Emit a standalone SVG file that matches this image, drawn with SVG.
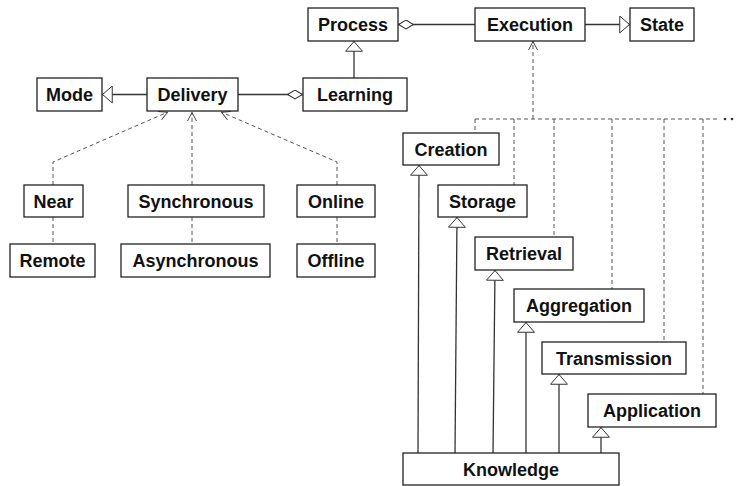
<svg xmlns="http://www.w3.org/2000/svg" width="736" height="486" viewBox="0 0 736 486">
<style>
.box{fill:#fff;stroke:#222;stroke-width:1.3}
.t{font-family:"Liberation Sans",Arial,Helvetica,sans-serif;font-weight:bold;font-size:18px;fill:#111;text-anchor:middle}
.s{fill:none;stroke:#333;stroke-width:1.3}
.d{fill:none;stroke:#555;stroke-width:1;stroke-dasharray:4 3}
</style>
<defs>
<marker id="tri" viewBox="0 0 12 20" refX="12" refY="10" markerWidth="11" markerHeight="18" markerUnits="userSpaceOnUse" orient="auto">
<path d="M0.6,0.6 L11.4,10 L0.6,19.4 Z" fill="#fff" stroke="#333" stroke-width="1.1"/>
</marker>
<marker id="dia" viewBox="0 0 16 10" refX="16" refY="5" markerWidth="16" markerHeight="10" markerUnits="userSpaceOnUse" orient="auto">
<path d="M0.6,5 L8,0.6 L15.4,5 L8,9.4 Z" fill="#fff" stroke="#333" stroke-width="1.1"/>
</marker>
<marker id="open" viewBox="0 0 9 10" refX="9" refY="5" markerWidth="9" markerHeight="10" markerUnits="userSpaceOnUse" orient="auto">
<path d="M0,0.5 L8.5,5 L0,9.5" fill="none" stroke="#444" stroke-width="1"/>
</marker>
</defs>
<g id="connectors">
<line class="s" x1="475" y1="24.5" x2="398" y2="24.5" marker-end="url(#dia)"/>
<line class="s" x1="585" y1="24.5" x2="630" y2="24.5" marker-end="url(#tri)"/>
<line class="s" x1="354" y1="78" x2="354" y2="41" marker-end="url(#tri)"/>
<line class="s" x1="147" y1="94.5" x2="102" y2="94.5" marker-end="url(#tri)"/>
<line class="s" x1="238" y1="94.5" x2="303" y2="94.5" marker-end="url(#dia)"/>
<polyline class="d" points="53,185 53,162 168,112" marker-end="url(#open)"/>
<line class="d" x1="192" y1="185" x2="192" y2="112" marker-end="url(#open)"/>
<polyline class="d" points="337,185 337,162 221,112" marker-end="url(#open)"/>
<line class="d" x1="53" y1="217" x2="53" y2="244"/>
<line class="d" x1="192" y1="217" x2="192" y2="244"/>
<line class="d" x1="337" y1="217" x2="337" y2="244"/>
<line class="d" x1="533" y1="119" x2="533" y2="41" marker-end="url(#open)"/>
<line class="d" x1="475" y1="119" x2="717" y2="119"/>
<circle cx="725" cy="119" r="1.3" fill="#333"/>
<circle cx="732" cy="119" r="1.3" fill="#333"/>
<line class="d" x1="475" y1="119" x2="475" y2="133"/>
<line class="d" x1="514" y1="119" x2="514" y2="185"/>
<line class="d" x1="554" y1="119" x2="554" y2="237"/>
<line class="d" x1="612" y1="119" x2="612" y2="289"/>
<line class="d" x1="664" y1="119" x2="664" y2="342"/>
<line class="d" x1="703" y1="119" x2="703" y2="394"/>
<line class="s" x1="418" y1="453" x2="419" y2="165" marker-end="url(#tri)"/>
<line class="s" x1="455" y1="453" x2="457" y2="217" marker-end="url(#tri)"/>
<line class="s" x1="493" y1="453" x2="495" y2="270" marker-end="url(#tri)"/>
<line class="s" x1="526" y1="453" x2="526" y2="322" marker-end="url(#tri)"/>
<line class="s" x1="559" y1="453" x2="559" y2="374" marker-end="url(#tri)"/>
<line class="s" x1="601" y1="453" x2="601" y2="427" marker-end="url(#tri)"/>
</g>
<g id="process"><rect class="box" x="308" y="8" width="90" height="33"/><text class="t" x="353" y="31">Process</text></g>
<g id="execution"><rect class="box" x="475" y="8" width="110" height="33"/><text class="t" x="530" y="31">Execution</text></g>
<g id="state"><rect class="box" x="630" y="8" width="64" height="33"/><text class="t" x="662" y="31">State</text></g>
<g id="mode"><rect class="box" x="37" y="78" width="65" height="33"/><text class="t" x="69.5" y="101">Mode</text></g>
<g id="delivery"><rect class="box" x="147" y="78" width="91" height="33"/><text class="t" x="192.5" y="101">Delivery</text></g>
<g id="learning"><rect class="box" x="303" y="78" width="104" height="33"/><text class="t" x="355" y="101">Learning</text></g>
<g id="near"><rect class="box" x="24" y="185" width="59" height="32"/><text class="t" x="53.5" y="207.5">Near</text></g>
<g id="synchronous"><rect class="box" x="128" y="185" width="136" height="32"/><text class="t" x="196" y="207.5">Synchronous</text></g>
<g id="online"><rect class="box" x="297" y="185" width="78" height="32"/><text class="t" x="336" y="207.5">Online</text></g>
<g id="remote"><rect class="box" x="10" y="244" width="85" height="33"/><text class="t" x="52.5" y="267">Remote</text></g>
<g id="asynchronous"><rect class="box" x="121" y="244" width="149" height="33"/><text class="t" x="195.5" y="267">Asynchronous</text></g>
<g id="offline"><rect class="box" x="297" y="244" width="78" height="33"/><text class="t" x="336" y="267">Offline</text></g>
<g id="creation"><rect class="box" x="403" y="133" width="96" height="32"/><text class="t" x="451" y="155.5">Creation</text></g>
<g id="storage"><rect class="box" x="438" y="185" width="89" height="32"/><text class="t" x="482.5" y="207.5">Storage</text></g>
<g id="retrieval"><rect class="box" x="475" y="237" width="98" height="33"/><text class="t" x="524" y="260">Retrieval</text></g>
<g id="aggregation"><rect class="box" x="514" y="289" width="130" height="33"/><text class="t" x="579" y="312">Aggregation</text></g>
<g id="transmission"><rect class="box" x="542" y="342" width="144" height="32"/><text class="t" x="614" y="364.5">Transmission</text></g>
<g id="application"><rect class="box" x="588" y="394" width="128" height="33"/><text class="t" x="652" y="417">Application</text></g>
<g id="knowledge"><rect class="box" x="403" y="453" width="216" height="32"/><text class="t" x="511" y="475.5">Knowledge</text></g>
</svg>
